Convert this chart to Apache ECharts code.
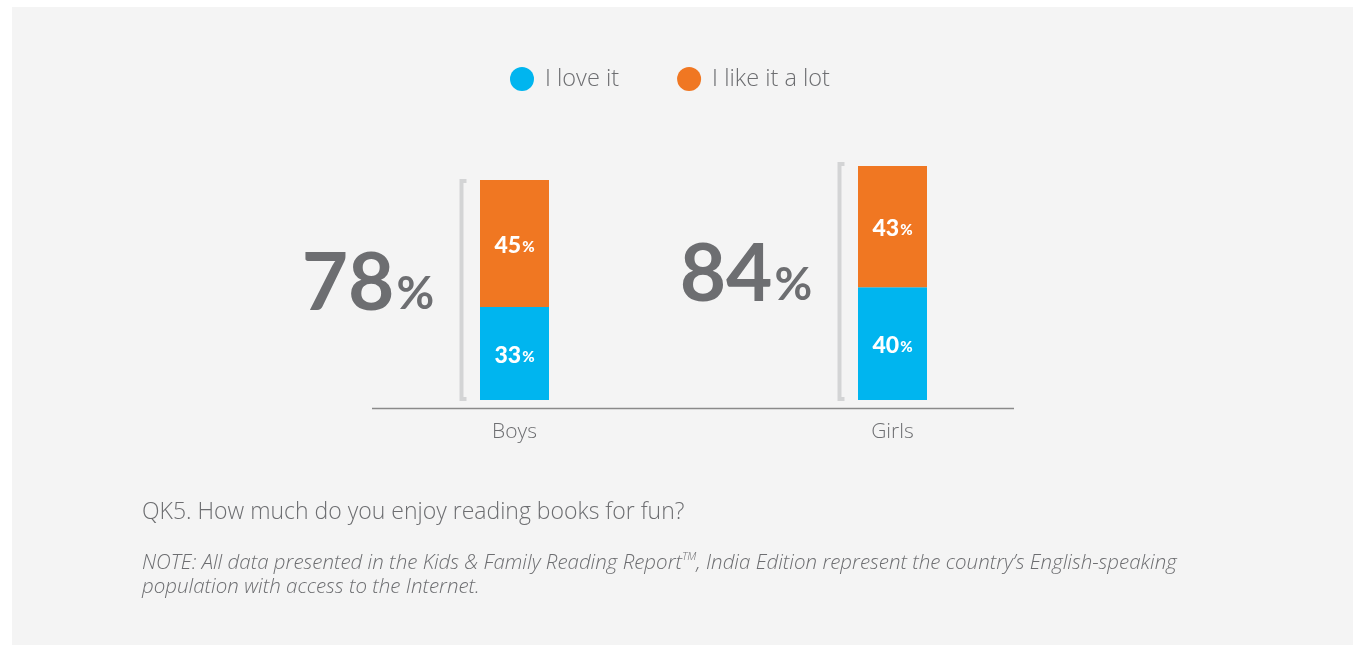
<!DOCTYPE html>
<html>
<head>
<meta charset="utf-8">
<script src="https://cdn.jsdelivr.net/npm/echarts@6/dist/echarts.min.js"></script>
<style>
  html, body { margin: 0; padding: 0; background: #fff; }
  #main { width: 1353px; height: 647px; }
</style>
</head>
<body>
<div id="main"></div>
<script>
const categories = ['Boys', 'Girls']
const loveIt = [33, 40]
const likeItALot = [45, 43]
const totals = [78, 84]

const GRAY = '#6d6e71'
const BLUE = '#00b5ef'
const ORANGE = '#f07722'
const FONT = 'Lato'
const TEXT_FONT = 'Open Sans'

const chart = echarts.init(document.getElementById('main'))

// bracket + big total number to the left of each bar
function renderTotal(params, api) {
  const idx = api.value(0)
  const top = api.coord([idx, api.value(1)])
  const bottom = api.coord([idx, 0])
  const cx = top[0]
  const bx = cx - 53
  const mid = (top[1] + bottom[1]) / 2 - 6
  const numRight = cx - 82
  return {
    type: 'group',
    children: [
      {
        type: 'polyline',
        shape: {
          points: [[bx + 5, top[1] + 1], [bx, top[1] + 1], [bx, bottom[1] - 1], [bx + 5, bottom[1] - 1]]
        },
        style: { stroke: '#d3d4d5', lineWidth: 4, fill: null }
      },
      {
        type: 'text',
        x: numRight - 38,
        y: mid,
        style: {
          text: String(api.value(1)),
          fontFamily: FONT,
          fontWeight: 'bold',
          fontSize: 80,
          fill: GRAY,
          align: 'right',
          verticalAlign: 'middle'
        }
      },
      {
        type: 'text',
        x: numRight - 36,
        y: mid + 10,
        style: {
          text: '%',
          fontFamily: FONT,
          fontWeight: 'bold',
          fontSize: 46,
          fill: GRAY,
          align: 'left',
          verticalAlign: 'middle'
        }
      }
    ]
  }
}

const barLabel = {
  show: true,
  position: 'inside',
  offset: [0, 2],
  formatter: '{n|{c}}{p|%}',
  rich: {
    n: { fontFamily: FONT, fontWeight: 900, fontSize: 23, color: '#fff' },
    p: { fontFamily: FONT, fontWeight: 900, fontSize: 15, color: '#fff', padding: [4, 0, 0, 1] }
  }
}

const option = {
  backgroundColor: 'transparent',
  animation: false,
  graphic: [
    {
      type: 'rect',
      z: -10,
      shape: { x: 12, y: 7, width: 1341, height: 638 },
      style: { fill: '#f4f4f4' }
    },
    {
      type: 'line',
      shape: { x1: 372, y1: 408.5, x2: 1014, y2: 408.5 },
      style: { stroke: '#8a8a8a', lineWidth: 1.5 }
    }
  ],
  title: [
    {
      text: 'QK5. How much do you enjoy reading books for fun?',
      left: 137,
      top: 496,
      textStyle: { fontFamily: TEXT_FONT, fontWeight: 300, fontSize: 23, color: GRAY }
    },
    {
      text: 'NOTE: All data presented in the Kids & Family Reading Report{sup|TM}, India Edition represent the country\u2019s English-speaking\npopulation with access to the Internet.',
      left: 137,
      top: 546,
      textStyle: {
        fontFamily: TEXT_FONT,
        fontWeight: 300,
        fontStyle: 'italic',
        fontSize: 20.5,
        lineHeight: 24,
        color: GRAY,
        rich: {
          sup: { fontFamily: TEXT_FONT, fontStyle: 'italic', fontSize: 11, color: GRAY, verticalAlign: 'top', lineHeight: 24 }
        }
      }
    }
  ],
  legend: {
    data: ['I love it', 'I like it a lot'],
    top: 62,
    left: 505,
    icon: 'circle',
    itemWidth: 24,
    itemHeight: 24,
    itemGap: 58,
    textStyle: { fontFamily: TEXT_FONT, fontWeight: 300, fontSize: 23.5, color: GRAY, padding: [0, 0, 0, 6] }
  },
  grid: { left: 325.5, right: 271.5, top: 118, bottom: 247 },
  xAxis: {
    type: 'category',
    data: categories,
    axisLine: { show: false },
    axisTick: { show: false },
    axisLabel: { margin: 22, fontFamily: TEXT_FONT, fontWeight: 300, fontSize: 21, color: GRAY }
  },
  yAxis: { type: 'value', min: 0, max: 100, show: false },
  series: [
    {
      name: 'I love it',
      type: 'bar',
      stack: 'total',
      barWidth: 69,
      data: loveIt,
      itemStyle: { color: BLUE },
      label: barLabel
    },
    {
      name: 'I like it a lot',
      type: 'bar',
      stack: 'total',
      barWidth: 69,
      data: likeItALot,
      itemStyle: { color: ORANGE },
      label: barLabel
    },
    {
      name: 'total',
      type: 'custom',
      renderItem: renderTotal,
      data: totals.map((t, i) => [i, t]),
      silent: true
    }
  ]
}

chart.setOption(option)
</script>
</body>
</html>
